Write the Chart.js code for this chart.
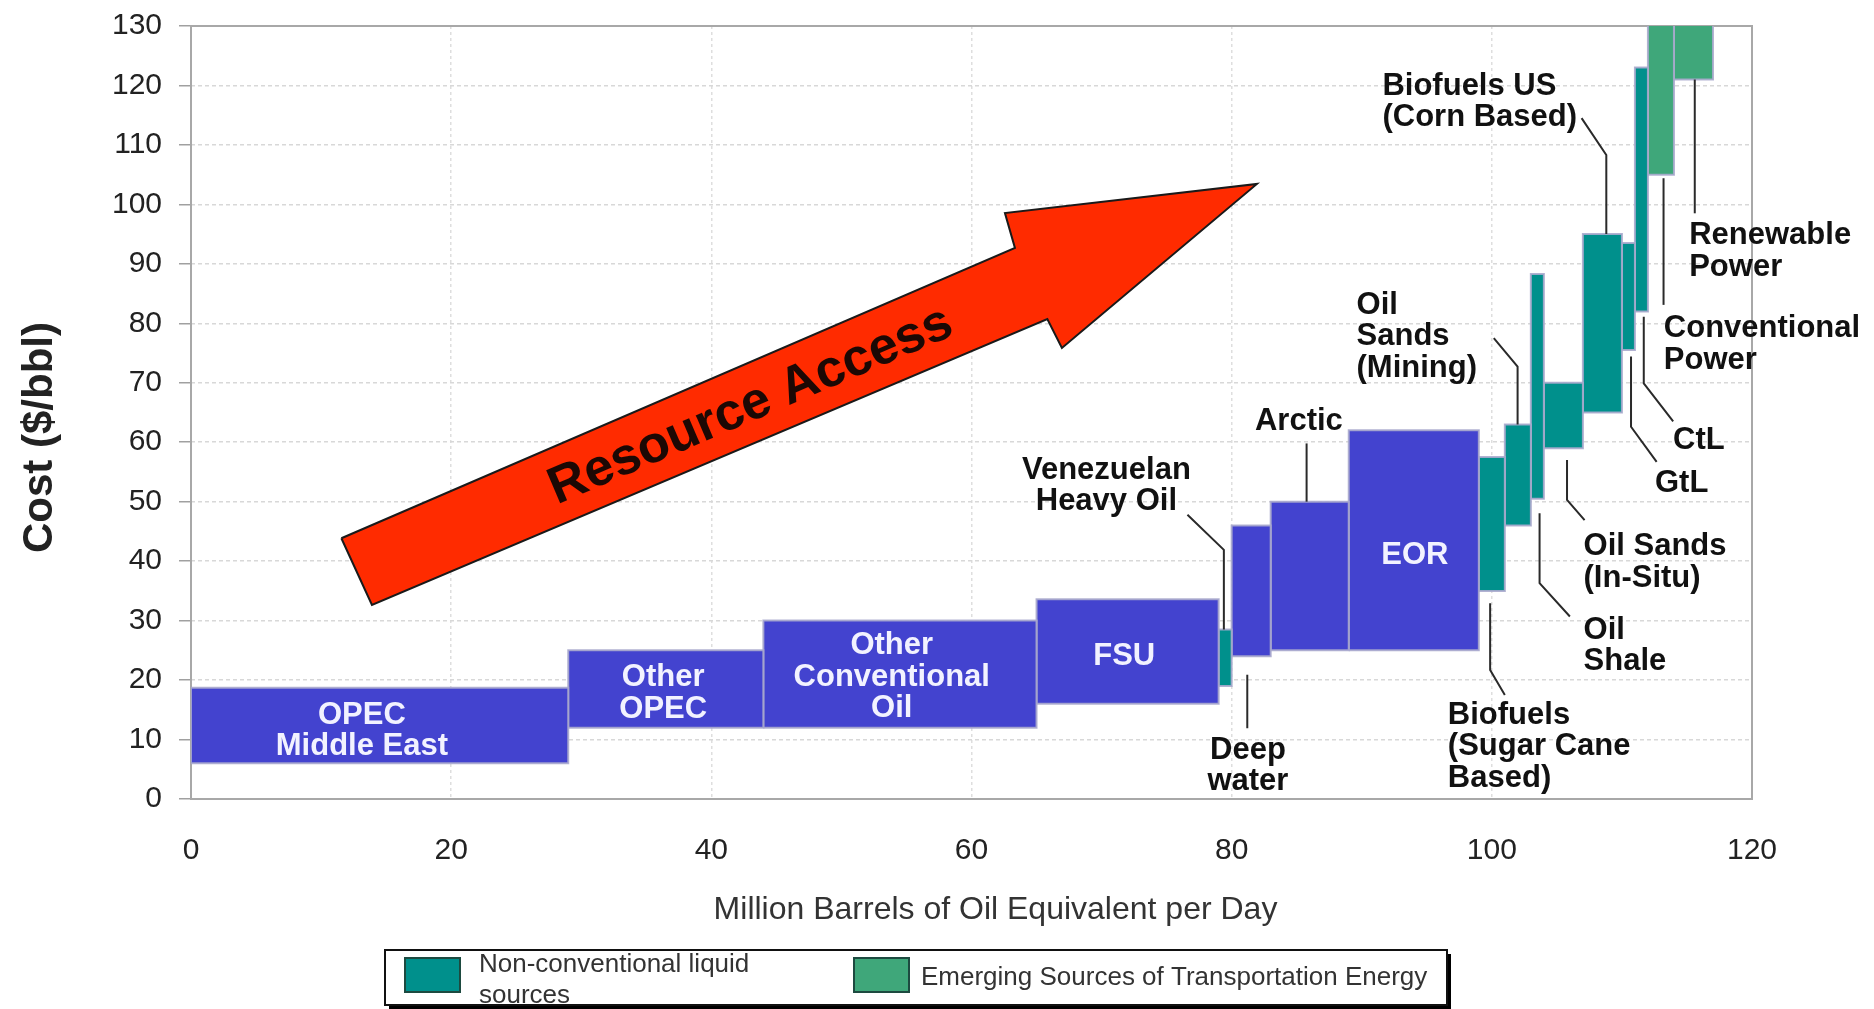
<!DOCTYPE html>
<html lang="en">
<head>
<meta charset="utf-8">
<title>Supply cost curve</title>
<script src="https://cdn.jsdelivr.net/npm/chart.js@4.4.1/dist/chart.umd.min.js"></script>
<style>
    html, body { margin: 0; padding: 0; background: #ffffff; overflow: hidden; }
    .chart-box { position: relative; width: 1874px; height: 1009px; }
</style>
</head>
<body>
<div class="chart-box"><canvas id="cost-curve" width="1874" height="1009"></canvas></div>
<script>
// Supply segments, left to right along the curve
const categories = [
    'OPEC Middle East', 'Other OPEC', 'Other Conventional Oil', 'FSU',
    'Venezuelan Heavy Oil', 'Deep water', 'Arctic', 'EOR',
    'Biofuels (Sugar Cane Based)', 'Oil Sands (Mining)', 'Oil Shale', 'Oil Sands (In-Situ)',
    'Biofuels US (Corn Based)', 'GtL', 'CtL', 'Conventional Power', 'Renewable Power'
];
// width of each segment, million barrels of oil equivalent per day
const volumes = [29, 15, 21, 14, 1, 3, 6, 10, 2, 2, 1, 3, 3, 1, 1, 2, 3];
// cost range of each segment, $/bbl
const costLow = [6, 12, 12, 16, 19, 24, 25, 25, 35, 46, 50.5, 59, 65, 75.5, 82, 105, 121];
const costHigh = [18.7, 25, 30, 33.6, 28.5, 46, 50, 62, 57.5, 63, 88.3, 70, 95, 93.5, 123, 130.5, 130.5];
const sourceType = [
    'conventional', 'conventional', 'conventional', 'conventional',
    'nonconventional', 'conventional', 'conventional', 'conventional',
    'nonconventional', 'nonconventional', 'nonconventional', 'nonconventional',
    'nonconventional', 'nonconventional', 'nonconventional', 'emerging', 'emerging'
];

const xTicks = [0, 20, 40, 60, 80, 100, 120];
const yTicks = [0, 10, 20, 30, 40, 50, 60, 70, 80, 90, 100, 110, 120, 130];

const xTitle = 'Million Barrels of Oil Equivalent per Day';
const yTitle = 'Cost ($/bbl)';
const arrowCaption = 'Resource Access';

const legendItems = [
    { type: 'nonconventional', label: ['Non-conventional liquid', 'sources'] },
    { type: 'emerging', label: ['Emerging Sources of Transportation Energy'] }
];

const typeColors = {
    conventional: '#4343cf',
    nonconventional: '#00908c',
    emerging: '#3fa77a'
};

// big "Resource Access" arrow, in axis units
const arrowOutline = [
    [11.56, 43.85], [63.34, 92.67], [62.57, 98.55], [81.94, 103.43],
    [66.95, 75.85], [65.83, 80.73], [13.91, 32.63], [11.56, 43.85]
];
const arrowCaptionAt = [42.97, 66.4];

// white labels inside the boxes (first line centre, axis units)
const boxLabels = [
    { text: ['OPEC', 'Middle East'], at: [13.14, 14.13] },
    { text: ['Other', 'OPEC'], at: [36.3, 20.4] },
    { text: ['Other', 'Conventional', 'Oil'], at: [53.87, 25.8] },
    { text: ['FSU'], at: [71.74, 23.93] },
    { text: ['EOR'], at: [94.08, 41.04] }
];

// black call-outs with their leader lines (axis units)
const callouts = [
    { text: ['Venezuelan', 'Heavy Oil'], at: [70.37, 55.33], align: 'center', leader: [[76.6, 47.8], [79.4, 41.9], [79.4, 28.5]] },
    { text: ['Arctic'], at: [85.17, 63.45], align: 'center', leader: [[85.76, 59.8], [85.76, 50]] },
    { text: ['Deep', 'water'], at: [81.25, 8.24], align: 'center', leader: [[81.2, 20.9], [81.2, 11.9]] },
    { text: ['Biofuels', '(Sugar Cane', 'Based)'], at: [96.62, 14.13], align: 'left', leader: [[99.87, 32.9], [99.87, 21.7], [101.0, 17.5]] },
    { text: ['Oil', 'Sands', '(Mining)'], at: [89.6, 83.08], align: 'left', leader: [[100.15, 77.5], [101.98, 72.7], [101.98, 63]] },
    { text: ['Biofuels US', '(Corn Based)'], at: [91.59, 119.9], align: 'left', leader: [[106.9, 114.5], [108.8, 108.3], [108.8, 95]] },
    { text: ['Renewable', 'Power'], at: [115.17, 94.77], align: 'left', leader: [[115.6, 121], [115.6, 98.5]] },
    { text: ['Conventional', 'Power'], at: [113.22, 79.13], align: 'left', leader: [[113.2, 104.4], [113.2, 83.1]] },
    { text: ['CtL'], at: [113.93, 60.38], align: 'left', leader: [[111.68, 81.1], [111.68, 69.9], [113.94, 63.5]] },
    { text: ['GtL'], at: [112.54, 53.14], align: 'left', leader: [[110.7, 74.4], [110.7, 62.6], [112.67, 56.7]] },
    { text: ['Oil Sands', '(In-Situ)'], at: [107.05, 42.47], align: 'left', leader: [[105.78, 57.0], [105.78, 50.3], [107.13, 46.9]] },
    { text: ['Oil', 'Shale'], at: [107.05, 28.42], align: 'left', leader: [[103.67, 48.05], [103.67, 36.3], [106.0, 30.7]] }
];

const FONT = '"Liberation Sans", Arial, sans-serif';
const LABEL_FONT = 'bold 31px ' + FONT;
const LINE_HEIGHT = 31.5;

// one closed rectangle per segment, drawn as a filled line through the scales
let runningTotal = 0;
const boxDatasets = categories.map((name, i) => {
    const x0 = runningTotal;
    const x1 = runningTotal + volumes[i];
    runningTotal = x1;
    return {
        label: name,
        data: [
            { x: x0, y: costLow[i] }, { x: x1, y: costLow[i] },
            { x: x1, y: costHigh[i] }, { x: x0, y: costHigh[i] },
            { x: x0, y: costLow[i] }
        ],
        backgroundColor: typeColors[sourceType[i]],
        borderColor: 'rgba(170, 170, 205, 0.9)',
        borderWidth: 2,
        fill: 'shape',
        pointRadius: 0,
        tension: 0
    };
});

const arrowDataset = {
    label: arrowCaption,
    data: arrowOutline.map(p => ({ x: p[0], y: p[1] })),
    backgroundColor: '#ff2b00',
    borderColor: '#1a1a1a',
    borderWidth: 2,
    fill: 'shape',
    pointRadius: 0,
    tension: 0
};

function toPixel(chart, pt) {
    return [chart.scales.x.getPixelForValue(pt[0]), chart.scales.y.getPixelForValue(pt[1])];
}

function drawLines(ctx, lines, pos, align, color) {
    ctx.fillStyle = color;
    ctx.textAlign = align;
    lines.forEach((line, i) => ctx.fillText(line, pos[0], pos[1] + i * LINE_HEIGHT));
}

function drawLegend(ctx) {
    const left = 385, top = 950, width = 1062, height = 55;
    ctx.save();
    ctx.fillStyle = '#000';
    ctx.fillRect(left + 4, top + 4, width, height);
    ctx.fillStyle = '#fff';
    ctx.fillRect(left, top, width, height);
    ctx.strokeStyle = '#111';
    ctx.lineWidth = 2;
    ctx.strokeRect(left, top, width, height);

    const swatchX = [405, 854];
    const textX = [479, 921];
    ctx.font = '26px ' + FONT;
    ctx.textBaseline = 'middle';
    ctx.textAlign = 'left';
    legendItems.forEach((item, i) => {
        ctx.fillStyle = typeColors[item.type];
        ctx.fillRect(swatchX[i], 958, 55, 34);
        ctx.strokeStyle = '#1d4a40';
        ctx.lineWidth = 2;
        ctx.strokeRect(swatchX[i], 958, 55, 34);
        ctx.fillStyle = '#333';
        if (item.label.length > 1) {
            ctx.fillText(item.label[0], textX[i], 965);
            ctx.fillText(item.label[1], textX[i], 996);
        } else {
            ctx.fillText(item.label[0], textX[i], 978);
        }
    });
    ctx.restore();
}

const annotationsPlugin = {
    id: 'costCurveAnnotations',
    beforeDatasetsDraw(chart) {
        const { ctx, chartArea: a } = chart;
        ctx.save();
        ctx.strokeStyle = '#a8a8a8';
        ctx.lineWidth = 2;
        ctx.strokeRect(a.left, a.top, a.right - a.left, a.bottom - a.top);
        ctx.restore();
    },
    afterDatasetsDraw(chart) {
        const { ctx } = chart;
        ctx.save();

        // leader lines
        ctx.strokeStyle = '#2a2a2a';
        ctx.lineWidth = 2;
        callouts.forEach(c => {
            ctx.beginPath();
            c.leader.forEach((p, i) => {
                const [lx, ly] = toPixel(chart, p);
                if (i === 0) ctx.moveTo(lx, ly); else ctx.lineTo(lx, ly);
            });
            ctx.stroke();
        });

        ctx.font = LABEL_FONT;
        ctx.textBaseline = 'middle';
        callouts.forEach(c => drawLines(ctx, c.text, toPixel(chart, c.at), c.align, '#111'));
        boxLabels.forEach(b => drawLines(ctx, b.text, toPixel(chart, b.at), 'center', '#f2f2ff'));

        // caption along the arrow shaft
        const tail = toPixel(chart, [(arrowOutline[0][0] + arrowOutline[6][0]) / 2, (arrowOutline[0][1] + arrowOutline[6][1]) / 2]);
        const head = toPixel(chart, [(arrowOutline[1][0] + arrowOutline[5][0]) / 2, (arrowOutline[1][1] + arrowOutline[5][1]) / 2]);
        const angle = Math.atan2(head[1] - tail[1], head[0] - tail[0]);
        const [cx, cy] = toPixel(chart, arrowCaptionAt);
        ctx.translate(cx, cy);
        ctx.rotate(angle);
        ctx.font = 'bold 52px ' + FONT;
        ctx.textAlign = 'center';
        ctx.fillStyle = '#1c0804';
        ctx.fillText(arrowCaption, 0, 2);
        ctx.restore();
    },
    afterDraw(chart) {
        const { ctx, chartArea: a } = chart;
        ctx.save();
        // y title
        ctx.translate(40, (a.top + a.bottom) / 2 + 25);
        ctx.rotate(-Math.PI / 2);
        ctx.font = 'bold 42px ' + FONT;
        ctx.fillStyle = '#222';
        ctx.textAlign = 'center';
        ctx.textBaseline = 'middle';
        ctx.fillText(yTitle, 0, 0);
        ctx.restore();

        ctx.save();
        ctx.font = '32px ' + FONT;
        ctx.fillStyle = '#333';
        ctx.textAlign = 'center';
        ctx.textBaseline = 'middle';
        ctx.fillText(xTitle, (a.left + a.right) / 2 + 24, 910);
        ctx.restore();

        drawLegend(ctx);
    }
};

Chart.defaults.font.family = FONT;

new Chart(document.getElementById('cost-curve'), {
    type: 'line',
    data: { datasets: [arrowDataset, ...boxDatasets] },
    options: {
        responsive: false,
        animation: false,
        events: [],
        layout: { padding: { top: 26, right: 122, bottom: 0, left: 0 } },
        plugins: {
            legend: { display: false },
            tooltip: { enabled: false }
        },
        scales: {
            x: {
                type: 'linear',
                min: 0,
                max: 120,
                afterBuildTicks: scale => { scale.ticks = xTicks.map(v => ({ value: v })); },
                afterFit: scale => {
                    scale.height = 210;
                    scale.paddingLeft = 0;
                    scale.paddingRight = 0;
                },
                grid: { color: '#dedede', lineWidth: 1.5, drawTicks: false },
                border: { display: false, dash: [3, 3] },
                ticks: {
                    padding: 34,
                    maxRotation: 0,
                    autoSkip: false,
                    color: '#222',
                    font: { size: 30 }
                }
            },
            y: {
                type: 'linear',
                min: 0,
                max: 130,
                afterBuildTicks: scale => { scale.ticks = yTicks.map(v => ({ value: v })); },
                afterFit: scale => {
                    scale.width = 191;
                    scale.paddingTop = 0;
                    scale.paddingBottom = 0;
                },
                grid: { color: '#d8d8d8', lineWidth: 1.5, tickLength: 12, tickColor: '#a0a0a0', tickBorderDash: [] },
                border: { display: false, dash: [4, 3] },
                ticks: {
                    padding: 17,
                    color: '#222',
                    font: { size: 30 }
                }
            }
        }
    },
    plugins: [annotationsPlugin]
});
</script>
</body>
</html>
